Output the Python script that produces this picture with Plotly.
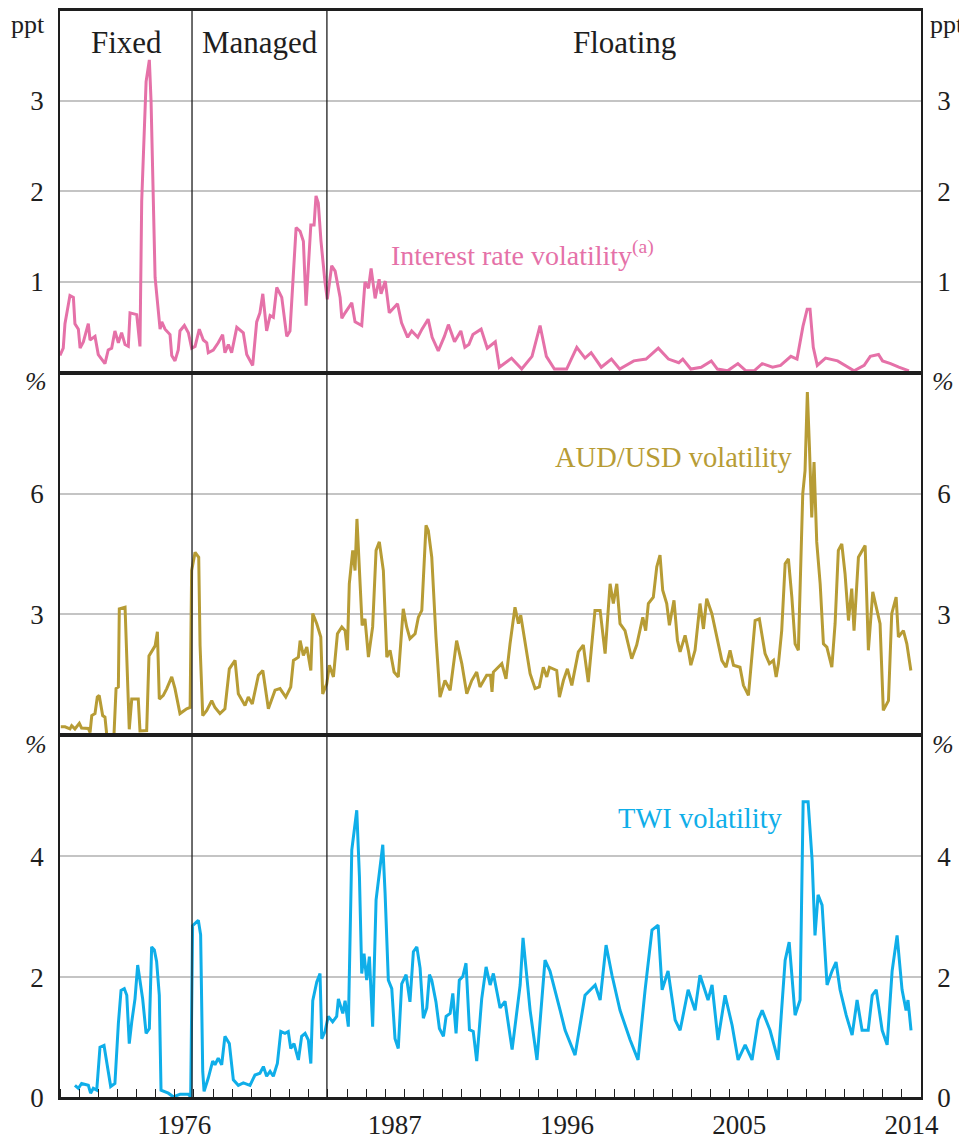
import plotly.graph_objects as go

# ---------------- data ----------------
ir_year = [1970.00, 1970.17, 1970.26, 1970.52, 1970.70, 1970.78, 1970.96, 1971.05, 1971.22, 1971.48,
           1971.57, 1971.83, 1972.00, 1972.35, 1972.52, 1972.70, 1972.87, 1973.05, 1973.22, 1973.40,
           1973.57, 1973.66, 1974.01, 1974.18, 1974.27, 1974.50, 1974.67, 1974.76, 1974.97, 1975.23,
           1975.32, 1975.49, 1975.75, 1975.84, 1976.01, 1976.18, 1976.27, 1976.50, 1976.71, 1976.88,
           1977.06, 1977.28, 1977.49, 1977.67, 1977.75, 1978.01, 1978.27, 1978.50, 1978.62, 1978.80,
           1978.97, 1979.24, 1979.58, 1979.76, 1980.07, 1980.28, 1980.45, 1980.60, 1980.80, 1980.98,
           1981.15, 1981.33, 1981.59, 1981.85, 1982.02, 1982.34, 1982.55, 1982.72, 1982.86, 1982.98,
           1983.11, 1983.28, 1983.38, 1983.50, 1983.64, 1983.85, 1983.97, 1984.20, 1984.38, 1984.64,
           1984.73, 1984.90, 1985.25, 1985.42, 1985.77, 1985.94, 1986.12, 1986.26, 1986.47, 1986.68,
           1986.78, 1987.00, 1987.21, 1987.64, 1987.85, 1988.17, 1988.38, 1988.70, 1988.92, 1989.24,
           1989.45, 1989.77, 1990.09, 1990.30, 1990.62, 1990.95, 1991.16, 1991.37, 1991.58, 1992.01,
           1992.33, 1992.75, 1992.96, 1993.60, 1994.13, 1994.67, 1995.09, 1995.42, 1995.84, 1996.48,
           1997.01, 1997.44, 1997.76, 1998.29, 1998.82, 1999.25, 1999.99, 2000.63, 2001.27, 2001.80,
           2002.34, 2002.55, 2002.97, 2003.51, 2004.04, 2004.36, 2004.89, 2005.43, 2005.85, 2006.28,
           2006.70, 2007.24, 2007.66, 2008.20, 2008.52, 2008.83, 2009.05, 2009.20, 2009.37, 2009.58,
           2010.01, 2010.64, 2011.50, 2012.03, 2012.35, 2012.78, 2012.99, 2013.41, 2013.84, 2014.37]
ir_vol = [0.19, 0.27, 0.54, 0.85, 0.83, 0.54, 0.48, 0.27, 0.34, 0.54,
          0.36, 0.40, 0.20, 0.10, 0.25, 0.27, 0.46, 0.33, 0.44, 0.31,
          0.29, 0.66, 0.64, 0.29, 1.89, 3.21, 3.45, 2.99, 1.05, 0.48,
          0.56, 0.48, 0.42, 0.19, 0.13, 0.25, 0.46, 0.52, 0.44, 0.27,
          0.29, 0.48, 0.36, 0.33, 0.22, 0.25, 0.33, 0.42, 0.22, 0.31,
          0.22, 0.50, 0.44, 0.20, 0.08, 0.56, 0.66, 0.87, 0.46, 0.63,
          0.61, 0.94, 0.83, 0.40, 0.46, 1.60, 1.56, 1.45, 0.74, 1.15,
          1.63, 1.63, 1.95, 1.87, 1.45, 1.00, 0.81, 1.18, 1.12, 0.83,
          0.60, 0.66, 0.77, 0.56, 0.52, 1.00, 0.93, 1.15, 0.82, 1.03,
          0.87, 1.01, 0.66, 0.76, 0.55, 0.39, 0.46, 0.39, 0.48, 0.59,
          0.39, 0.24, 0.40, 0.53, 0.34, 0.46, 0.28, 0.31, 0.42, 0.48,
          0.27, 0.34, 0.06, 0.16, 0.04, 0.18, 0.52, 0.18, 0.04, 0.04,
          0.28, 0.16, 0.22, 0.06, 0.15, 0.04, 0.13, 0.15, 0.27, 0.15,
          0.11, 0.15, 0.04, 0.06, 0.13, 0.04, 0.02, 0.10, 0.02, 0.02,
          0.10, 0.06, 0.08, 0.18, 0.15, 0.51, 0.70, 0.70, 0.28, 0.08,
          0.16, 0.13, 0.02, 0.08, 0.18, 0.20, 0.13, 0.10, 0.06, 0.02]

aud_year = [1970.04, 1970.26, 1970.52, 1970.61, 1970.78, 1971.01, 1971.13, 1971.48, 1971.57, 1971.66,
            1971.83, 1971.95, 1972.05, 1972.23, 1972.35, 1972.44, 1972.82, 1972.93, 1973.05, 1973.10,
            1973.40, 1973.49, 1973.62, 1973.75, 1974.09, 1974.18, 1974.53, 1974.65, 1974.97, 1975.09,
            1975.19, 1975.40, 1975.58, 1975.84, 1976.01, 1976.27, 1976.62, 1976.80, 1976.88, 1977.06,
            1977.25, 1977.32, 1977.46, 1977.67, 1977.93, 1978.10, 1978.36, 1978.62, 1978.85, 1979.15,
            1979.32, 1979.67, 1979.84, 1980.05, 1980.37, 1980.60, 1980.89, 1981.24, 1981.50, 1981.80,
            1982.06, 1982.20, 1982.46, 1982.55, 1982.72, 1982.90, 1983.11, 1983.21, 1983.42, 1983.63,
            1983.73, 1983.94, 1984.08, 1984.29, 1984.50, 1984.73, 1984.90, 1985.02, 1985.12, 1985.30,
            1985.42, 1985.52, 1985.68, 1985.79, 1985.94, 1986.12, 1986.34, 1986.52, 1986.69, 1986.90,
            1987.08, 1987.25, 1987.46, 1987.68, 1987.94, 1988.12, 1988.29, 1988.56, 1988.73, 1988.91,
            1989.13, 1989.25, 1989.43, 1989.65, 1989.86, 1990.12, 1990.39, 1990.73, 1991.00, 1991.26,
            1991.52, 1991.78, 1991.95, 1992.30, 1992.50, 1992.58, 1992.65, 1992.91, 1993.09, 1993.31,
            1993.52, 1993.78, 1993.96, 1994.08, 1994.31, 1994.57, 1994.83, 1995.05, 1995.26, 1995.44,
            1995.58, 1995.96, 1996.10, 1996.31, 1996.52, 1996.75, 1997.09, 1997.35, 1997.61, 1997.96,
            1998.23, 1998.49, 1998.75, 1998.92, 1999.10, 1999.27, 1999.53, 1999.88, 2000.14, 2000.46,
            2000.61, 2000.75, 2001.01, 2001.19, 2001.36, 2001.50, 2001.71, 2001.85, 2002.09, 2002.27,
            2002.41, 2002.67, 2002.84, 2002.97, 2003.19, 2003.45, 2003.63, 2003.80, 2004.07, 2004.36,
            2004.59, 2004.81, 2005.02, 2005.20, 2005.54, 2005.72, 2005.98, 2006.33, 2006.55, 2006.85,
            2007.08, 2007.29, 2007.43, 2007.55, 2007.72, 2007.90, 2008.07, 2008.25, 2008.42, 2008.59,
            2008.82, 2008.94, 2009.06, 2009.17, 2009.29, 2009.41, 2009.55, 2009.73, 2009.90, 2010.08,
            2010.34, 2010.51, 2010.68, 2010.86, 2011.03, 2011.21, 2011.38, 2011.50, 2011.73, 2012.08,
            2012.25, 2012.48, 2012.69, 2012.86, 2013.03, 2013.30, 2013.47, 2013.70, 2013.82, 2014.08,
            2014.26, 2014.47]
aud_vol = [0.21, 0.21, 0.16, 0.24, 0.16, 0.30, 0.18, 0.17, 0.07, 0.49,
           0.54, 0.95, 0.99, 0.49, 0.45, 0.03, 0.00, 1.16, 1.20, 3.14,
           3.18, 1.97, 0.15, 0.90, 0.90, 0.11, 0.12, 1.97, 2.22, 2.57,
           0.90, 0.99, 1.16, 1.45, 1.16, 0.54, 0.66, 0.69, 4.09, 4.54,
           4.42, 2.23, 0.49, 0.62, 0.86, 0.69, 0.54, 0.66, 1.65, 1.86,
           1.03, 0.74, 0.95, 0.78, 1.49, 1.61, 0.66, 1.12, 1.16, 0.95,
           1.20, 1.86, 1.94, 2.35, 1.98, 2.19, 1.61, 3.02, 2.77, 2.44,
           1.03, 1.28, 1.74, 1.45, 2.52, 2.69, 2.60, 2.11, 3.76, 4.59,
           4.09, 5.37, 3.84, 2.73, 2.89, 1.94, 2.69, 4.59, 4.80, 4.09,
           1.94, 2.11, 1.57, 1.45, 3.14, 2.69, 2.40, 2.52, 2.93, 3.10,
           5.21, 5.08, 4.42, 2.44, 0.95, 1.36, 1.12, 2.35, 1.78, 1.03,
           1.36, 1.57, 1.20, 1.49, 1.49, 1.08, 1.57, 1.69, 1.78, 1.40,
           2.27, 3.18, 2.77, 2.98, 2.27, 1.53, 1.16, 1.20, 1.69, 1.45,
           1.69, 1.61, 0.95, 1.36, 1.65, 1.24, 2.07, 2.24, 1.32, 3.10,
           3.10, 2.03, 3.76, 3.27, 3.76, 2.77, 2.60, 1.90, 2.24, 2.93,
           2.60, 3.27, 3.43, 4.18, 4.47, 3.60, 3.27, 2.73, 3.35, 2.36,
           2.07, 2.48, 2.11, 1.74, 2.11, 3.27, 2.64, 3.39, 3.02, 2.36,
           1.86, 1.69, 2.11, 1.74, 1.69, 1.24, 0.99, 2.85, 2.89, 2.03,
           1.78, 1.86, 1.45, 1.78, 2.60, 4.26, 4.38, 3.43, 2.27, 2.11,
           6.00, 6.57, 8.52, 7.15, 5.41, 6.78, 4.80, 3.76, 2.27, 2.19,
           1.69, 2.77, 4.59, 4.75, 4.01, 2.85, 3.64, 2.60, 4.42, 4.71,
           2.11, 3.56, 3.10, 2.77, 0.62, 0.86, 3.02, 3.43, 2.44, 2.60,
           2.27, 1.61]

twi_year = [1970.78, 1970.96, 1971.13, 1971.48, 1971.60, 1971.74, 1971.92, 1972.09, 1972.30, 1972.44,
            1972.65, 1972.87, 1973.05, 1973.19, 1973.36, 1973.49, 1973.62, 1973.75, 1973.92, 1974.06,
            1974.18, 1974.32, 1974.50, 1974.67, 1974.79, 1974.93, 1975.05, 1975.19, 1975.28, 1975.66,
            1975.92, 1976.27, 1976.71, 1976.83, 1976.93, 1977.23, 1977.35, 1977.46, 1977.53, 1977.75,
            1977.98, 1978.10, 1978.27, 1978.45, 1978.62, 1978.85, 1979.06, 1979.32, 1979.58, 1979.93,
            1980.19, 1980.45, 1980.63, 1980.80, 1980.98, 1981.15, 1981.36, 1981.54, 1981.76, 1981.93,
            1982.06, 1982.23, 1982.46, 1982.63, 1982.81, 1982.98, 1983.11, 1983.21, 1983.42, 1983.59,
            1983.68, 1983.85, 1984.02, 1984.25, 1984.46, 1984.55, 1984.78, 1984.90, 1985.07, 1985.25,
            1985.51, 1985.65, 1985.77, 1985.89, 1986.03, 1986.17, 1986.34, 1986.52, 1986.87, 1986.99,
            1987.16, 1987.34, 1987.51, 1987.68, 1987.86, 1988.09, 1988.29, 1988.47, 1988.65, 1988.82,
            1988.99, 1989.17, 1989.31, 1989.43, 1989.65, 1989.83, 1990.04, 1990.18, 1990.39, 1990.53,
            1990.70, 1990.87, 1991.05, 1991.22, 1991.40, 1991.60, 1991.78, 1992.04, 1992.27, 1992.48,
            1992.65, 1992.83, 1993.00, 1993.26, 1993.63, 1994.05, 1994.20, 1994.57, 1994.93, 1995.35,
            1995.61, 1996.14, 1996.40, 1996.92, 1997.44, 1997.97, 1998.23, 1998.54, 1998.85, 1999.27,
            1999.80, 2000.21, 2000.58, 2000.94, 2001.26, 2001.47, 2001.78, 2002.15, 2002.41, 2002.83,
            2003.19, 2003.45, 2003.87, 2004.08, 2004.39, 2004.76, 2005.13, 2005.44, 2005.81, 2006.17,
            2006.49, 2006.70, 2007.11, 2007.53, 2007.90, 2008.11, 2008.42, 2008.68, 2008.84, 2009.10,
            2009.31, 2009.46, 2009.62, 2009.83, 2010.09, 2010.35, 2010.56, 2010.77, 2011.09, 2011.40,
            2011.66, 2011.92, 2012.24, 2012.45, 2012.66, 2012.97, 2013.23, 2013.49, 2013.75, 2014.01,
            2014.22, 2014.32, 2014.48]
twi_vol = [0.21, 0.16, 0.24, 0.21, 0.08, 0.16, 0.13, 0.84, 0.87, 0.57,
           0.19, 0.24, 1.23, 1.78, 1.81, 1.70, 0.90, 1.26, 1.64, 2.20,
           1.95, 1.64, 1.07, 1.15, 2.50, 2.45, 2.26, 1.70, 0.13, 0.08,
           0.02, 0.06, 0.06, 0.02, 2.85, 2.94, 2.70, 0.44, 0.11, 0.33,
           0.61, 0.55, 0.66, 0.55, 1.02, 0.90, 0.30, 0.21, 0.25, 0.21,
           0.38, 0.41, 0.52, 0.36, 0.44, 0.36, 0.57, 1.10, 1.07, 1.10,
           0.82, 0.90, 0.63, 1.02, 1.07, 0.96, 0.57, 1.61, 1.92, 2.06,
           0.98, 1.10, 1.35, 1.26, 1.35, 1.64, 1.40, 1.61, 1.18, 4.10,
           4.76, 3.66, 2.06, 2.39, 1.95, 2.34, 1.18, 3.28, 4.19, 3.39,
           1.95, 1.81, 0.98, 0.82, 1.89, 2.04, 1.59, 2.42, 2.50, 2.15,
           1.32, 1.49, 2.04, 1.95, 1.59, 1.15, 1.02, 1.35, 1.40, 1.73,
           1.07, 1.95, 2.01, 2.23, 1.13, 1.10, 0.61, 1.64, 2.17, 1.87,
           2.06, 1.76, 1.49, 1.60, 0.80, 1.87, 2.65, 1.45, 0.63, 2.28,
           2.10, 1.45, 1.12, 0.71, 1.70, 1.87, 1.62, 2.53, 2.03, 1.45,
           0.96, 0.63, 1.79, 2.78, 2.86, 1.79, 2.10, 1.29, 1.12, 1.79,
           1.45, 2.03, 1.62, 1.87, 0.96, 1.70, 1.20, 0.63, 0.88, 0.63,
           1.29, 1.45, 1.12, 0.63, 2.28, 2.58, 1.37, 1.62, 4.90, 4.90,
           3.93, 2.69, 3.36, 3.19, 1.87, 2.10, 2.25, 1.79, 1.37, 1.04,
           1.62, 1.12, 1.12, 1.70, 1.79, 1.12, 0.88, 2.10, 2.69, 1.79,
           1.45, 1.62, 1.12]

regime_breaks = [1976.9, 1983.95]
regime_names = ["Fixed", "Managed", "Floating"]
regime_label_x = [1973.45, 1980.45, 1999.5]
year_label_text = ["1976", "1987", "1996", "2005", "2014"]
year_label_pos = [1976.5, 1987.5, 1996.5, 2005.5, 2014.5]
year_ticks = list(range(1970, 2016))
x_range = [1970, 2015]

PINK = "#E571A8"
GOLD = "#B79C35"
CYAN = "#0FAEE9"
GRID = "#C4C4C4"
INK = "#1E1E1E"
FONT = "Liberation Serif"

fig = go.Figure()
fig.add_trace(go.Scatter(x=ir_year, y=ir_vol, mode="lines", line=dict(color=PINK, width=3),
                         xaxis="x", yaxis="y", showlegend=False, hoverinfo="skip"))
fig.add_trace(go.Scatter(x=aud_year, y=aud_vol, mode="lines", line=dict(color=GOLD, width=3),
                         xaxis="x2", yaxis="y2", showlegend=False, hoverinfo="skip"))
fig.add_trace(go.Scatter(x=twi_year, y=twi_vol, mode="lines", line=dict(color=CYAN, width=3),
                         xaxis="x3", yaxis="y3", showlegend=False, hoverinfo="skip"))

tickfont = dict(family=FONT, size=27, color=INK)
xbase = dict(range=x_range, showgrid=False, zeroline=False, showline=True, mirror=True,
             linecolor=INK, linewidth=1.5, fixedrange=True, automargin=False)
ybase = dict(showgrid=True, gridcolor=GRID, gridwidth=1.5, zeroline=False, showline=True,
             mirror=True, linecolor=INK, linewidth=1.5, ticks="", tickfont=tickfont,
             ticklabelstandoff=9, automargin=False, fixedrange=True)

third = 1 / 3
panels = [
    dict(domain=[2 * third, 1], range=[0, 4], tickvals=[1, 2, 3]),
    dict(domain=[third, 2 * third], range=[0, 9], tickvals=[3, 6]),
    dict(domain=[0, third], range=[0, 6], tickvals=[0, 2, 4]),
]

# the page body adds an 8px offset; margins compensate so the plot area sits at 60..921 x 10..1098
layout = dict(
    width=967, height=1140,
    margin=dict(l=52, r=54, t=2, b=50, autoexpand=False),
    paper_bgcolor="white", plot_bgcolor="white",
    font=dict(family=FONT, color=INK),
    showlegend=False,
)
layout["xaxis"] = dict(xbase, anchor="y", showticklabels=False, ticks="")
layout["xaxis2"] = dict(xbase, anchor="y2", showticklabels=False, ticks="")
layout["xaxis3"] = dict(xbase, anchor="y3", tickmode="array", tickvals=year_label_pos,
                        ticktext=year_label_text, ticks="", tickfont=tickfont,
                        ticklabelstandoff=2,
                        minor=dict(tickmode="array", tickvals=year_ticks, ticks="inside",
                                   ticklen=9, tickwidth=1.2, tickcolor=INK, showgrid=False))
for i, p in enumerate(panels):
    n = "" if i == 0 else str(i + 1)
    xa = "x" + n
    layout["yaxis" + n] = dict(ybase, anchor=xa, domain=p["domain"], range=p["range"],
                               tickvals=p["tickvals"])
    layout["yaxis" + str(i + 4)] = dict(ybase, anchor=xa, overlaying="y" + n, side="right",
                                        range=p["range"], tickvals=p["tickvals"],
                                        showgrid=False)
fig.update_layout(**layout)

# right-axis companions so the mirrored tick labels render
for i in range(3):
    fig.add_trace(go.Scatter(x=[None], y=[None], xaxis="x" + ("" if i == 0 else str(i + 1)),
                             yaxis="y" + str(i + 4), showlegend=False, hoverinfo="skip"))

shapes = []
for b in regime_breaks:
    shapes.append(dict(type="line", xref="x", yref="paper", x0=b, x1=b, y0=0, y1=1,
                       line=dict(color=INK, width=1.3), layer="above"))
for yb in [third, 2 * third]:
    shapes.append(dict(type="line", xref="paper", yref="paper", x0=0, x1=1, y0=yb, y1=yb,
                       line=dict(color=INK, width=3.2), layer="above"))
shapes.append(dict(type="line", xref="paper", yref="paper", x0=0, x1=1, y0=1, y1=1,
                   line=dict(color=INK, width=2), layer="above"))
shapes.append(dict(type="line", xref="paper", yref="paper", x0=0, x1=1, y0=0, y1=0,
                   line=dict(color=INK, width=2), layer="above"))
fig.update_layout(shapes=shapes)

ann = []
for name, xc in zip(regime_names, regime_label_x):
    ann.append(dict(text=name, x=xc, xref="x", y=0.9705, yref="paper", showarrow=False,
                    xanchor="center", yanchor="middle", font=dict(family=FONT, size=31, color=INK)))
# unit labels
unit_font = dict(family=FONT, size=26, color=INK)
ann.append(dict(text="ppt", x=0, xref="paper", xshift=-13, y=1, yshift=-14, yref="paper",
                xanchor="right", yanchor="middle", showarrow=False, font=unit_font))
ann.append(dict(text="ppt", x=1, xref="paper", xshift=7, y=1, yshift=-14, yref="paper",
                xanchor="left", yanchor="middle", showarrow=False, font=unit_font))
for yb in [2 * third, third]:
    ann.append(dict(text="<i>%</i>", x=0, xref="paper", xshift=-11, y=yb, yshift=-9, yref="paper",
                    xanchor="right", yanchor="middle", showarrow=False, font=unit_font))
    ann.append(dict(text="<i>%</i>", x=1, xref="paper", xshift=9, y=yb, yshift=-9, yref="paper",
                    xanchor="left", yanchor="middle", showarrow=False, font=unit_font))
# series labels
ann.append(dict(text="Interest rate volatility<sup>(a)</sup>", x=1987.2, xref="x", y=1.31, yref="y",
                xanchor="left", yanchor="middle", showarrow=False,
                font=dict(family=FONT, size=28, color=PINK)))
ann.append(dict(text="AUD/USD volatility", x=1995.75, xref="x2", y=6.9, yref="y2",
                xanchor="left", yanchor="middle", showarrow=False,
                font=dict(family=FONT, size=28.5, color=GOLD)))
ann.append(dict(text="TWI volatility", x=1999.05, xref="x3", y=4.63, yref="y3",
                xanchor="left", yanchor="middle", showarrow=False,
                font=dict(family=FONT, size=28.5, color=CYAN)))
fig.update_layout(annotations=ann)

fig.write_html("out.html")
